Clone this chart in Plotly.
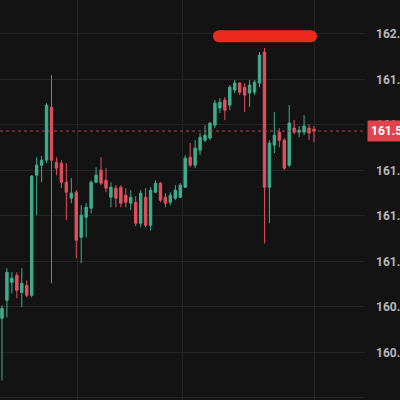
import plotly.graph_objects as go

# candle index (one per bar, left to right)
bars = list(range(64))

open_ = [160.750, 160.829, 160.908, 160.939, 160.864, 160.895, 160.851, 161.379,
         161.423, 161.445, 161.678, 161.436, 161.432, 161.348, 161.278, 161.304,
         161.106, 161.194, 161.234, 161.348, 161.401, 161.357, 161.282, 161.322,
         161.326, 161.291, 161.256, 161.260, 161.168, 161.282, 161.159, 161.304,
         161.344, 161.282, 161.260, 161.278, 161.282, 161.326, 161.458, 161.423,
         161.489, 161.533, 161.542, 161.599, 161.674, 161.709, 161.687, 161.753,
         161.784, 161.766, 161.740, 161.744, 161.784, 161.920, 161.326, 161.511,
         161.568, 161.533, 161.423, 161.586, 161.568, 161.568, 161.586, 161.581]
high = [160.807, 160.970, 160.952, 160.952, 160.970, 160.917, 161.379, 161.458,
        161.463, 161.696, 161.819, 161.458, 161.445, 161.432, 161.366, 161.313,
        161.247, 161.256, 161.357, 161.414, 161.458, 161.410, 161.348, 161.335,
        161.335, 161.322, 161.313, 161.287, 161.313, 161.322, 161.326, 161.357,
        161.348, 161.300, 161.304, 161.335, 161.344, 161.467, 161.520, 161.533,
        161.564, 161.599, 161.612, 161.709, 161.718, 161.722, 161.775, 161.797,
        161.788, 161.784, 161.797, 161.797, 161.920, 161.938, 161.533, 161.656,
        161.586, 161.542, 161.687, 161.621, 161.595, 161.643, 161.603, 161.595]
low = [160.477, 160.754, 160.860, 160.838, 160.798, 160.842, 160.842, 161.203,
       161.348, 161.432, 160.904, 161.379, 161.322, 161.181, 161.256, 161.014,
       160.992, 161.106, 161.212, 161.344, 161.335, 161.304, 161.238, 161.238,
       161.238, 161.238, 161.225, 161.155, 161.150, 161.150, 161.137, 161.300,
       161.260, 161.238, 161.247, 161.269, 161.278, 161.322, 161.414, 161.410,
       161.467, 161.524, 161.533, 161.586, 161.652, 161.621, 161.665, 161.740,
       161.731, 161.656, 161.678, 161.731, 161.766, 161.080, 161.168, 161.476,
       161.502, 161.401, 161.414, 161.559, 161.546, 161.555, 161.533, 161.524]
close = [160.794, 160.952, 160.926, 160.873, 160.904, 160.851, 161.375, 161.423,
         161.445, 161.687, 161.445, 161.410, 161.348, 161.304, 161.300, 161.093,
         161.203, 161.238, 161.348, 161.379, 161.344, 161.322, 161.326, 161.278,
         161.256, 161.260, 161.282, 161.168, 161.300, 161.159, 161.313, 161.344,
         161.269, 161.256, 161.291, 161.313, 161.335, 161.454, 161.423, 161.498,
         161.546, 161.555, 161.608, 161.696, 161.700, 161.665, 161.766, 161.784,
         161.744, 161.731, 161.775, 161.788, 161.907, 161.326, 161.520, 161.555,
         161.533, 161.410, 161.608, 161.568, 161.577, 161.595, 161.564, 161.573]

price_ticks = [160.4, 160.6, 160.8, 161.0, 161.2, 161.4, 161.6, 161.8, 162.0]
time_grid = [15.2, 36.4, 63.2]

# drawn level (red marker bar at the top)
level_price = 161.99
level_from, level_to = 43.8, 62.4

GREEN = "#3fae8c"
RED = "#e2505f"
BG = "#131313"
GRID = "#252525"

fig = go.Figure()
fig.add_trace(go.Candlestick(
    x=bars, open=open_, high=high, low=low, close=close,
    increasing=dict(line=dict(color=GREEN, width=1), fillcolor=GREEN),
    decreasing=dict(line=dict(color=RED, width=1), fillcolor=RED),
    whiskerwidth=0, showlegend=False, hoverinfo="skip",
))

fig.add_trace(go.Scatter(
    x=[level_from, level_to], y=[level_price, level_price],
    mode="lines+markers",
    line=dict(color="#ee2a1f", width=12),
    marker=dict(color="#ee2a1f", size=12),
    showlegend=False, hoverinfo="skip",
))

last = close[-1]
fig.add_hline(y=last, line=dict(color="#9c4a50", width=1, dash="dot"))

fig.add_annotation(
    xref="paper", yref="y", x=1.005, y=last, xanchor="left", yanchor="middle",
    text=f"{last:.3f}", showarrow=False,
    font=dict(family="Roboto", size=12, color="white", weight="bold"),
    bgcolor="#e0434d", borderpad=3,
)

fig.update_layout(
    width=400, height=400,
    paper_bgcolor=BG, plot_bgcolor=BG,
    margin=dict(l=0, r=35, t=0, b=0),
    xaxis=dict(
        range=[-0.4, 73.3], rangeslider=dict(visible=False),
        tickvals=time_grid, showticklabels=False,
        showgrid=True, gridcolor=GRID, zeroline=False, showline=False,
    ),
    yaxis=dict(
        side="right", range=[160.391, 162.149],
        tickvals=price_ticks, ticktext=[f"{p:.2f}" for p in price_ticks],
        showgrid=True, gridcolor=GRID, zeroline=False, showline=False,
        ticks="", ticklabelstandoff=10, automargin=False,
        tickfont=dict(family="Roboto", size=12, color="#b8b8b8", weight="bold"),
    ),
)

# drop the page's default body margin so the chart fills the window
fig.write_html(
    "out.html",
    config={"displayModeBar": False},
    post_script="document.body.style.margin='0';",
)
